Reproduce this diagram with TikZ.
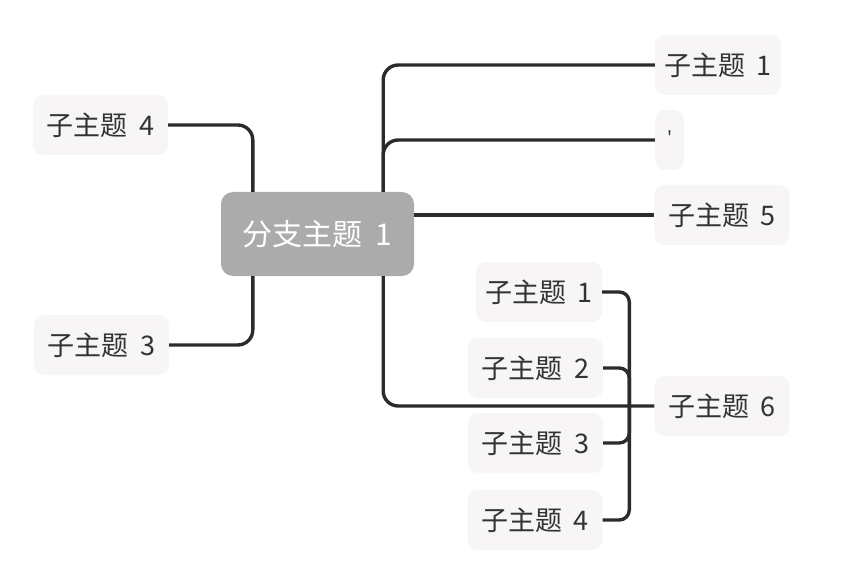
\documentclass[tikz,border=0pt]{standalone}
\usepackage{fontspec}
\setmainfont[WordSpace=1.9]{Noto Sans CJK SC}
\usepackage{xcolor}
\definecolor{mmgray}{RGB}{171,171,171}
\definecolor{mmpale}{RGB}{247,245,245}
\definecolor{mmink}{RGB}{51,51,51}
\definecolor{mmline}{RGB}{43,43,43}
\usetikzlibrary{positioning,calc}

\begin{document}
\begin{tikzpicture}[x=1pt,y=-1pt,
  branch/.style={fill=mmgray,rounded corners=12pt,text=white,minimum height=84pt,minimum width=193pt,font=\fontsize{30}{30}\selectfont},
  topic/.style={fill=mmpale,rounded corners=10pt,text=mmink,minimum height=60pt,minimum width=135pt,inner xsep=0pt,font=\fontsize{27}{27}\selectfont},
  narrow/.style={minimum width=126pt},
  conn/.style={draw=mmline,line width=3.4pt,rounded corners=15pt},
  sub/.style={draw=mmline,line width=3.4pt,rounded corners=10pt}]
  \useasboundingbox (0,0) rectangle (846,588);
  % Central topic
  \node[branch] (main) at (317.5,234) {分支主题 1};
  % Left topics
  \node[topic] (l4) at (100.5,125) {子主题 4};
  \node[topic] (l3) at (101.5,345) {子主题 3};
  % Right topics
  \node[topic,narrow] (r1) at (718,65) {子主题 1};
  \node[topic,minimum width=29pt,font=\fontsize{18}{18}\selectfont] (r2) at (669.5,140) {\raisebox{5pt}{\textquotesingle}};
  \node[topic] (r5) at (722,215) {子主题 5};
  \node[topic] (r6) at (722,406) {子主题 6};
  % Children of topic 6
  \node[topic,narrow] (c1) at (539,292) {子主题 1};
  \node[topic] (c2) at (535.5,368) {子主题 2};
  \node[topic] (c3) at (535.5,443) {子主题 3};
  \node[topic] (c4) at (535,520) {子主题 4};
  \coordinate (hub) at ([xshift=-25pt]r6.west);
  % Connectors
  \draw[conn] ([xshift=32pt]main.north west) |- (l4.east);
  \draw[conn] ([xshift=32pt]main.south west) |- (l3.east);
  \draw[conn] ([xshift=-31pt]main.north east) |- (r1.west);
  \draw[conn] ([xshift=-31pt]main.north east) |- (r2.west);
  \draw[conn] (r5.west -| main.east) -- (r5.west);
  \draw[conn] ([xshift=-31pt]main.south east) |- (r6.west);
  \draw[sub] (c1.east) -| (hub);
  \draw[sub] (c2.east) -| (hub);
  \draw[sub] (c3.east) -| (hub);
  \draw[sub] (c4.east) -| (hub);
\end{tikzpicture}
\end{document}
